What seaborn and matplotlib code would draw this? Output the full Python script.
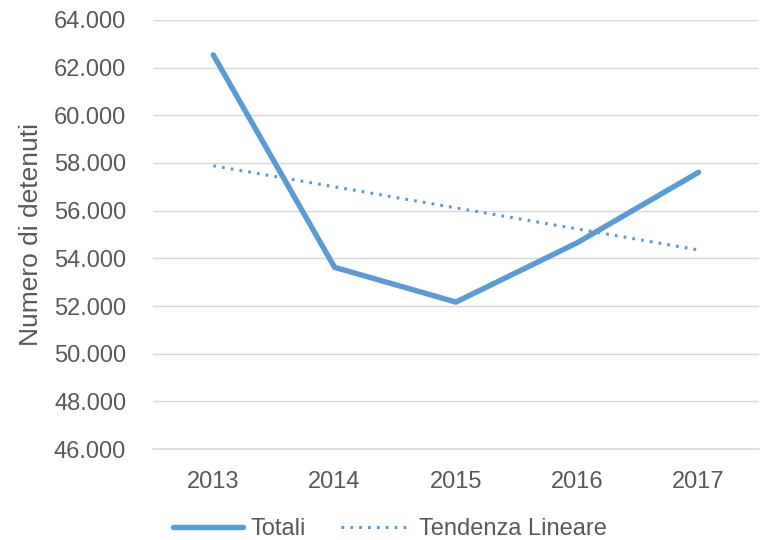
import matplotlib
matplotlib.use("Agg")
import matplotlib.pyplot as plt
import matplotlib.ticker as mticker
import seaborn as sns
import pandas as pd

# DATA
years = ["2013", "2014", "2015", "2016", "2017"]
totali = [62536, 53623, 52164, 54653, 57608]
tendenza = [57882, 57000, 56117, 55234, 54352]

df = pd.DataFrame({"Anno": years, "Totali": totali, "Tendenza Lineare": tendenza})

sns.set_theme(style="white")
plt.rcParams["font.family"] = ["Liberation Sans", "DejaVu Sans"]

TEXT = "#595959"
BLUE = "#5B9BD5"
FS = 17

fig = plt.figure(figsize=(7.63, 5.40), dpi=100)
ax = fig.add_axes([0.2, 0.1685, 0.795, 0.7945])

sns.lineplot(data=df, x="Anno", y="Totali", ax=ax, color=BLUE, linewidth=3.9,
             label="Totali", sort=False)
sns.lineplot(data=df, x="Anno", y="Tendenza Lineare", ax=ax, color=BLUE, linewidth=2.2,
             linestyle=(0, (0.9, 2.0)), label="Tendenza Lineare", sort=False)

ax.set_ylim(46000, 64000)
ax.set_xlim(-0.5, 4.5)
ax.yaxis.set_major_locator(mticker.MultipleLocator(2000))
ax.yaxis.set_major_formatter(mticker.FuncFormatter(lambda v, p: f"{v:,.0f}".replace(",", ".")))
ax.grid(axis="y", color="#D9D9D9", linewidth=1)
ax.set_axisbelow(True)
for s in ["top", "right", "left"]:
    ax.spines[s].set_visible(False)
ax.spines["bottom"].set_color("#D9D9D9")

ax.tick_params(axis="both", length=0, labelsize=FS, labelcolor=TEXT)
ax.tick_params(axis="y", pad=19)
ax.tick_params(axis="x", pad=16)
ax.set_xlabel("")
ax.set_ylabel("Numero di detenuti", fontsize=19, color=TEXT, labelpad=8)

ax.get_legend().remove()
handles, labels = ax.get_legend_handles_labels()
fig.legend(handles, labels, loc="center", bbox_to_anchor=(0.511, 0.02), ncol=2,
           frameon=False, fontsize=FS, labelcolor=TEXT, handlelength=3.0,
           columnspacing=1.5, handletextpad=0.3, borderpad=0, borderaxespad=0)

fig.savefig("out.png", dpi=100)
